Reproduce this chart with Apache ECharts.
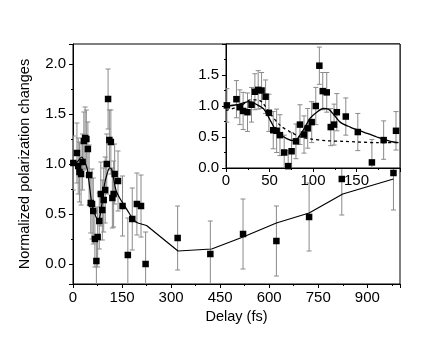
<!DOCTYPE html>
<html>
<head>
<meta charset="utf-8">
<script src="https://cdn.jsdelivr.net/npm/echarts@6/dist/echarts.min.js"></script>
<style>
  html, body { margin: 0; padding: 0; background: #fff; }
  #chart { width: 436px; height: 352px; }
</style>
</head>
<body>
<div id="chart"></div>
<script>
// measured points (delay in fs, normalized change, error)
var delay = [1, 12, 15.9, 19.7, 24.7, 29.3, 33.2, 37, 40.9, 45.5, 49.3, 54.3, 58.2, 62, 66.9, 71.5, 75.4, 80.4,
  85, 89.7, 93.9, 98.5, 103.2, 107.3, 111.2, 115.8, 120.4, 124.2, 127.4, 137.7, 151.5, 167.7, 181.2, 195.4,
  208, 222, 320, 420, 520, 622, 722, 822, 980];
var signal = [1.01, 1.11, 0.98, 0.92, 0.90, 1.02, 1.23, 1.26, 1.25, 1.15, 0.89, 0.61, 0.60, 0.53, 0.25, 0.03, 0.27, 0.43,
  0.70, 0.54, 0.64, 0.74, 1.00, 1.65, 1.24, 1.22, 0.66, 0.70, 0.90, 0.83, 0.58, 0.09, 0.45, 0.60,
  0.58, 0.00, 0.26, 0.10, 0.30, 0.23, 0.47, 0.85, 0.91];
var sigErr = [0.27, 0.30, 0.28, 0.30, 0.31, 0.28, 0.29, 0.31, 0.29, 0.27, 0.30, 0.30, 0.35, 0.33, 0.28, 0.25, 0.30, 0.28,
  0.32, 0.30, 0.32, 0.33, 0.30, 0.30, 0.30, 0.32, 0.30, 0.33, 0.30, 0.30, 0.30, 0.37, 0.31, 0.31,
  0.31, 0.32, 0.32, 0.33, 0.35, 0.35, 0.34, 0.36, 0.37];

// solid fit
var fitDelay = [0, 12.7, 26.2, 35.8, 43.5, 51.2, 58.9, 70.4, 78.1, 82, 89.7, 96.5, 104.3, 111.9, 117.7, 123.4, 131.2, 142.7, 158.1, 173.4, 188.8, 198.3];
var fitSignal = [1.0, 1.02, 1.07, 1.02, 0.95, 0.76, 0.58, 0.47, 0.44, 0.47, 0.63, 0.80, 0.90, 0.96, 0.95, 0.87, 0.74, 0.66, 0.58, 0.50, 0.43, 0.41];
// main panel continuation of the fit
var tailDelay = [198.3, 225, 321, 424, 520, 622, 722, 825, 980];
var tailSignal = [0.41, 0.385, 0.13, 0.15, 0.27, 0.41, 0.51, 0.70, 0.85];
// dashed curve in inset
var dashDelay = [0, 16.6, 28.2, 35.8, 41.6, 51.2, 62.8, 74.3, 85.9, 96.5, 115.8, 135, 173.4, 198.3];
var dashSignal = [0.93, 1.0, 1.10, 1.10, 1.06, 0.87, 0.68, 0.58, 0.50, 0.47, 0.44, 0.43, 0.41, 0.41];

function pairs(xs, ys) {
  var out = [];
  for (var i = 0; i < xs.length; i++) out.push([xs[i], ys[i]]);
  return out;
}
var pts = [], ptsErr = [], insetPts = [], insetErr = [];
for (var i = 0; i < delay.length; i++) {
  pts.push([delay[i], signal[i]]);
  ptsErr.push([delay[i], signal[i], sigErr[i]]);
  if (delay[i] <= 200) {
    insetPts.push([delay[i], signal[i]]);
    insetErr.push([delay[i], signal[i], sigErr[i]]);
  }
}

// 误差棒
function errBars(params, api) {
  var x = api.value(0), y = api.value(1), e = api.value(2);
  var t = api.coord([x, y + e]);
  var b = api.coord([x, y - e]);
  var w = 2.5;
  var st = { stroke: '#8a8a8a', lineWidth: 1 };
  return {
    type: 'group',
    children: [
      { type: 'line', shape: { x1: t[0], y1: t[1], x2: b[0], y2: b[1] }, style: st },
      { type: 'line', shape: { x1: t[0] - w, y1: t[1], x2: t[0] + w, y2: t[1] }, style: st },
      { type: 'line', shape: { x1: b[0] - w, y1: b[1], x2: b[0] + w, y2: b[1] }, style: st }
    ]
  };
}

var font = 'Liberation Sans';
var axisBase = {
  axisLine: { show: true, onZero: false, lineStyle: { color: '#000', width: 1 } },
  axisTick: { show: true, inside: false, length: 4, lineStyle: { color: '#000' } },
  minorTick: { show: true, splitNumber: 2, length: 2, lineStyle: { color: '#000' } },
  splitLine: { show: false },
  nameTextStyle: { color: '#000', fontFamily: font, fontSize: 14.5 }
};
function label(extra) {
  return Object.assign({ color: '#000', fontFamily: font, fontSize: 15 }, extra);
}

var myChart = echarts.init(document.getElementById('chart'));
myChart.setOption({
  animation: false,
  backgroundColor: '#fff',
  grid: [
    { left: 73, right: 36, top: 44, bottom: 68, show: true, borderColor: '#000', borderWidth: 1, backgroundColor: 'transparent' },
    { left: 226, right: 36, top: 44, bottom: 184, show: true, borderColor: '#000', borderWidth: 1, backgroundColor: '#fff', z: 10 }
  ],
  xAxis: [
    Object.assign({}, axisBase, {
      type: 'value', gridIndex: 0, min: 0, max: 1000, interval: 150,
      name: 'Delay (fs)', nameLocation: 'middle', nameGap: 12,
      axisLabel: label({ margin: 6, showMaxLabel: false })
    }),
    Object.assign({}, axisBase, {
      type: 'value', gridIndex: 1, min: 0, max: 200, interval: 50, z: 11,
      axisLabel: label({ margin: 5, showMaxLabel: false })
    })
  ],
  yAxis: [
    Object.assign({}, axisBase, {
      type: 'value', gridIndex: 0, min: -0.2, max: 2.2, minInterval: 0.5, maxInterval: 0.5,
      name: 'Normalized polarization changes', nameLocation: 'middle', nameGap: 41,
      axisLabel: label({ margin: 7, showMinLabel: false, showMaxLabel: false,
        formatter: function (v) { return v.toFixed(1); } })
    }),
    Object.assign({}, axisBase, {
      type: 'value', gridIndex: 1, min: 0, max: 2.0, interval: 0.5, z: 11,
      axisLabel: label({ margin: 7, showMaxLabel: false,
        formatter: function (v) { return v.toFixed(1); } })
    })
  ],
  series: [
    // main panel
    { type: 'custom', xAxisIndex: 0, yAxisIndex: 0, renderItem: errBars, data: ptsErr, clip: true, z: 2 },
    { type: 'line', xAxisIndex: 0, yAxisIndex: 0, data: pairs(fitDelay, fitSignal), smooth: 0.3, showSymbol: false,
      lineStyle: { color: '#000', width: 1.2 }, z: 3 },
    { type: 'line', xAxisIndex: 0, yAxisIndex: 0, data: pairs(tailDelay, tailSignal), showSymbol: false,
      lineStyle: { color: '#000', width: 1.2 }, z: 3 },
    { type: 'scatter', xAxisIndex: 0, yAxisIndex: 0, data: pts, symbol: 'rect', symbolSize: 6.5,
      itemStyle: { color: '#000', opacity: 1 }, z: 4 },
    // inset
    { type: 'custom', xAxisIndex: 1, yAxisIndex: 1, renderItem: errBars, data: insetErr, clip: true, z: 12 },
    { type: 'line', xAxisIndex: 1, yAxisIndex: 1, data: pairs(dashDelay, dashSignal), smooth: 0.3, showSymbol: false,
      lineStyle: { color: '#000', width: 1.3, type: [3, 3] }, z: 13 },
    { type: 'line', xAxisIndex: 1, yAxisIndex: 1, data: pairs(fitDelay, fitSignal), smooth: 0.3, showSymbol: false,
      lineStyle: { color: '#000', width: 1.3 }, z: 13 },
    { type: 'scatter', xAxisIndex: 1, yAxisIndex: 1, data: insetPts, symbol: 'rect', symbolSize: 6.5,
      itemStyle: { color: '#000', opacity: 1 }, z: 14 }
  ]
});
</script>
</body>
</html>
